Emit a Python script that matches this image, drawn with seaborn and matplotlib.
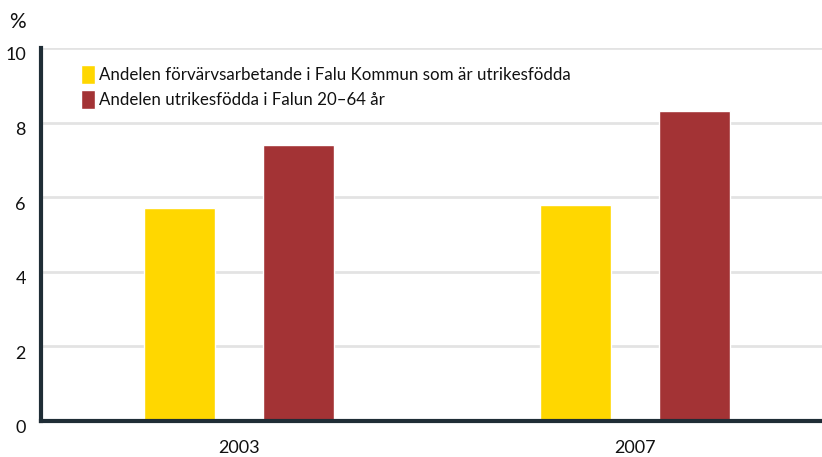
import matplotlib
matplotlib.use("Agg")
import matplotlib.pyplot as plt
import matplotlib.transforms as mtransforms
import seaborn as sns
import pandas as pd

years = ["2003", "2007"]
series_names = [
    "Andelen förvärvsarbetande i Falu Kommun som är utrikesfödda",
    "Andelen utrikesfödda i Falun 20\u201364 år",
]
employed_foreign = [5.7, 5.8]
foreign_20_64 = [7.4, 8.3]
y_ticks = [0, 2, 4, 6, 8, 10]

df = pd.DataFrame({
    "year": years * 2,
    "series": [series_names[0]] * 2 + [series_names[1]] * 2,
    "value": employed_foreign + foreign_20_64,
})

sns.set_style("white")
plt.rcParams["font.family"] = ["Lato", "DejaVu Sans"]

fig = plt.figure(figsize=(8.22, 4.57), dpi=100)
ax = fig.add_axes([0.05, 0.079, 0.95, 0.816])

palette = ["#FFD700", "#A33335"]
sns.barplot(data=df, x="year", y="value", hue="series", palette=palette,
            width=0.6, gap=0.4, saturation=1, ax=ax, zorder=3)

ax.set_ylim(0, 10)
ax.set_xlim(-0.5, 1.472)
ax.set_yticks(y_ticks)
ax.set_yticklabels([str(t) for t in y_ticks], fontsize=13, color="#111111")
ax.tick_params(axis="x", labelsize=13, colors="#111111", length=0, pad=14)
ax.tick_params(axis="y", length=0, pad=11)
ax.set_xlabel("")
ax.set_ylabel("")

offset = mtransforms.ScaledTranslation(0, -6 / 100, fig.dpi_scale_trans)
for lab in ax.get_yticklabels():
    lab.set_transform(lab.get_transform() + offset)

ax.yaxis.grid(True, color="#e3e3e3", linewidth=2, zorder=0)
ax.set_axisbelow(True)

for s in ["top", "right"]:
    ax.spines[s].set_visible(False)
for s in ["left", "bottom"]:
    ax.spines[s].set_color("#1f2d36")
    ax.spines[s].set_linewidth(3)
    ax.spines[s].set_zorder(5)

fig.text(0.011, 0.952, "%", fontsize=15, color="#111111", va="center", ha="left")

leg = ax.legend(loc="upper left", bbox_to_anchor=(0.042, 0.972), frameon=False,
                fontsize=12.2, handlelength=0.85, handleheight=1.3,
                handletextpad=0.25, labelspacing=0.4, borderaxespad=0)
for t in leg.get_texts():
    t.set_color("#111111")

fig.savefig("out.png", dpi=100)
